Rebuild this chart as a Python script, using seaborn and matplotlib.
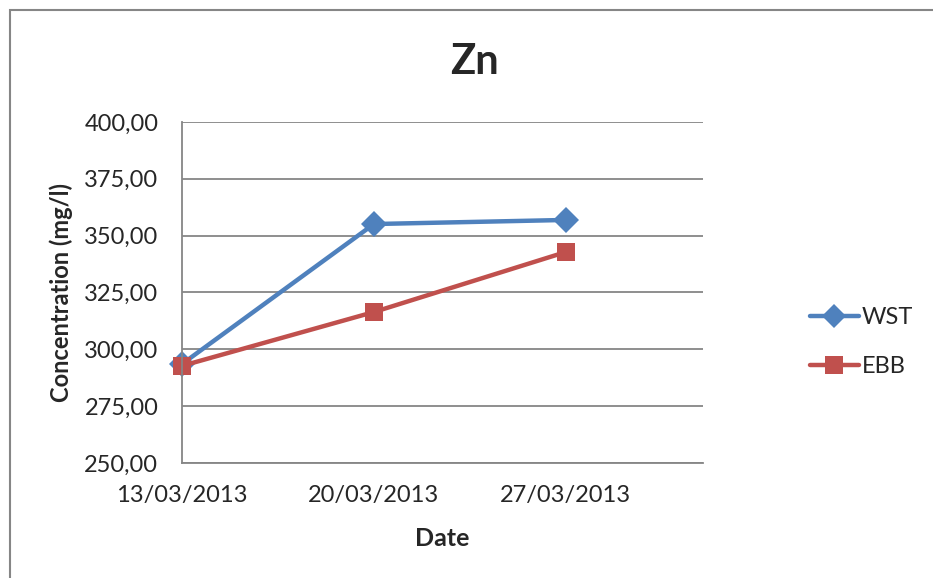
import matplotlib
matplotlib.use("Agg")
import matplotlib.pyplot as plt
import pandas as pd
import seaborn as sns
from matplotlib.patches import Rectangle

# data
dates = ["2013-03-13", "2013-03-20", "2013-03-27"]
date_labels = ["13/03/2013", "20/03/2013", "27/03/2013"]
wst = [293.5, 355.1, 356.9]
ebb = [292.7, 316.4, 342.8]
series = ["WST", "EBB"]
colors = ["#4F81BD", "#C0504D"]
markers = ["D", "s"]
y_ticks = [250, 275, 300, 325, 350, 375, 400]

df = pd.DataFrame({
    "Date": pd.to_datetime(dates * 2),
    "value": wst + ebb,
    "series": ["WST"] * 3 + ["EBB"] * 3,
})

sns.set_style("white")
plt.rcParams["font.family"] = ["Lato", "DejaVu Sans"]

fig = plt.figure(figsize=(9.33, 5.78), dpi=100)
ax = fig.add_axes([0.195, 0.199, 0.5585, 0.590])

sns.lineplot(data=df, x="Date", y="value", hue="series", style="series",
             hue_order=series, style_order=series, palette=colors,
             markers=markers, dashes=False, linewidth=3.2, markersize=13,
             markeredgewidth=0, ax=ax, legend=False)
for ln in ax.lines:
    ln.set_clip_on(False)

ax.set_ylim(250, 400)
ax.set_yticks(y_ticks)
ax.set_yticklabels([f"{v:.2f}".replace(".", ",") for v in y_ticks], fontsize=17)
ax.set_xlim(pd.Timestamp("2013-03-13"), pd.Timestamp("2013-04-01"))
ax.set_xticks(pd.to_datetime(dates))
ax.set_xticklabels(date_labels, fontsize=17)
ax.tick_params(axis="y", length=0, pad=17)
ax.tick_params(axis="x", length=0, pad=16)
ax.grid(axis="y", color="#868686", linewidth=1.3)
ax.set_axisbelow(True)
for s in ["top", "right"]:
    ax.spines[s].set_visible(False)
for s in ["left", "bottom"]:
    ax.spines[s].set_color("#868686")
    ax.spines[s].set_linewidth(1.3)

ax.set_xlabel("Date", fontsize=18, fontweight="bold", labelpad=15)
ax.set_ylabel("Concentration (mg/l)", fontsize=17, fontweight="bold", labelpad=8)
fig.text(0.509, 0.893, "Zn", ha="center", va="center", fontsize=30, fontweight="bold")

# legend
handles = [plt.Line2D([], [], color=c, marker=m, linewidth=3.2, markersize=13 if m == "s" else 12,
                      markeredgewidth=0) for c, m in zip(colors, markers)]
fig.legend(handles, series, loc="center left", bbox_to_anchor=(0.845, 0.408),
           frameon=False, fontsize=17, handlelength=2.1, handletextpad=0.1,
           labelspacing=1.2)

# chart area border (only left and top visible in the crop)
fig.patches.append(Rectangle((0.0105, -0.05), 1.1, 1.033, transform=fig.transFigure,
                             fill=False, edgecolor="#868686", linewidth=1.5))

fig.savefig("out.png", dpi=100)
